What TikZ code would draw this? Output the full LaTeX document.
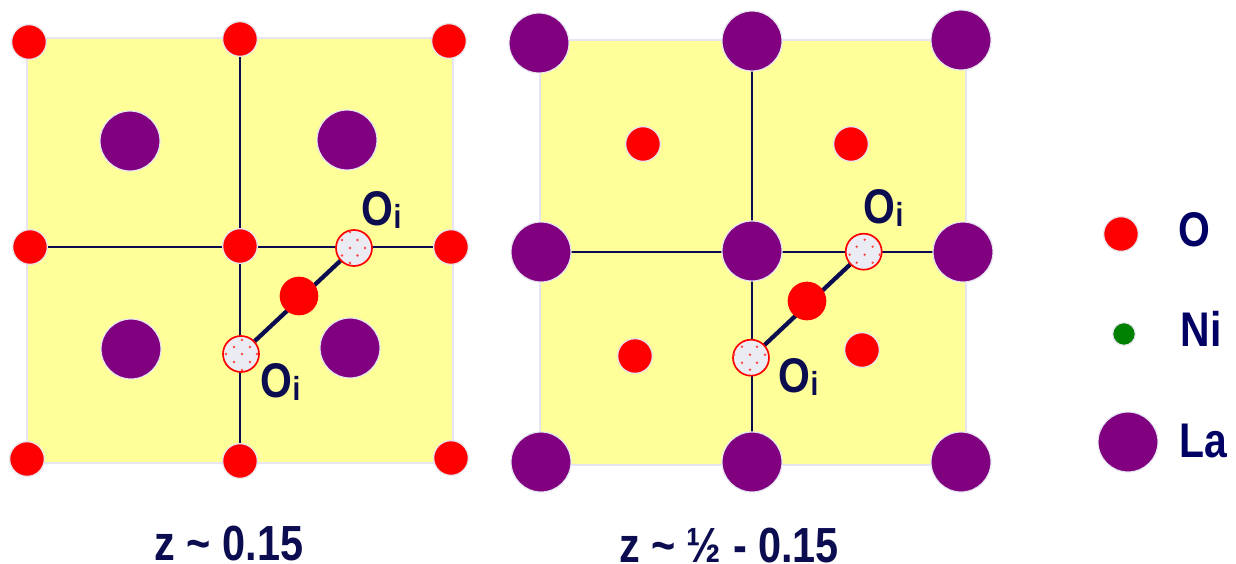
\documentclass[tikz,border=0pt]{standalone}
\usepackage{fontspec}
\setmainfont{Liberation Sans}
\usetikzlibrary{backgrounds}
\definecolor{inkblue}{HTML}{0C0C50}
\definecolor{legendblue}{HTML}{000064}
\definecolor{paneyellow}{HTML}{FFFF99}
\definecolor{halo}{HTML}{E6E6F0}
\definecolor{laviolet}{HTML}{800080}
\definecolor{nigreen}{HTML}{008000}
\newcommand{\oisub}{O\raisebox{-2.6pt}{\fontsize{25}{25}\selectfont i}}
\tikzset{
  x=0.75pt,y=-0.75pt,
  atom/.style={circle,inner sep=0pt,draw=halo,line width=0.9pt},
  oxy/.style={atom,fill=red,minimum size=26pt},
  oxybig/.style={circle,inner sep=0pt,fill=red,minimum size=29pt},
  lanth/.style={atom,fill=laviolet,minimum size=45pt},
  nick/.style={atom,fill=nigreen,minimum size=17pt},
  inter/.style={circle,inner sep=0pt,draw=red,line width=1.25pt,fill=halo!80!white,minimum size=27pt},
  reddot/.style={circle,inner sep=0pt,fill=red!72!white,minimum size=2pt},
  pane/.style={draw=halo,line width=1pt,fill=paneyellow},
  thin link/.style={draw=inkblue,line width=2pt},
  thick link/.style={draw=inkblue,line width=3.2pt},
  lab/.style={inner sep=0pt,text=inkblue,font=\fontsize{36.5}{36.5}\selectfont\bfseries,xscale=0.84,anchor=center},
  oilab/.style={lab,anchor=base west},
  caplab/.style={lab,font=\fontsize{37}{37}\selectfont\bfseries,anchor=base},
  leg/.style={lab,text=legendblue},
}
\newcommand{\dotset}[2]{\foreach \dx/\dy in {#2}{\node[reddot] at ([shift={(\dx,\dy)}]#1.center) {};}}
\begin{document}
\begin{tikzpicture}
\useasboundingbox (0,0) rectangle (1236,564);
% left panel atoms
\node[oxy] (l11) at (29,42) {};
\node[oxy] (l12) at (240,39) {};
\node[oxy] (l13) at (449,41) {};
\node[oxy] (l21) at (30,247) {};
\node[oxy] (l22) at (240,246) {};
\node[oxy] (l23) at (451,247) {};
\node[oxy] (l31) at (27,459) {};
\node[oxy] (l32) at (240,461) {};
\node[oxy] (l33) at (451,458) {};
\node[lanth] (la1) at (130,141) {};
\node[lanth] (la2) at (347,140) {};
\node[lanth] (la3) at (131,349) {};
\node[lanth] (la4) at (350,348) {};
\node[inter] (loi1) at (354,248) {};
\node[inter] (loi2) at (241,354) {};
\node[oxybig] (lmid) at (299,296) {};
\dotset{loi1}{-12/-8,3.5/-8,-4/0,11/0,-12/7.5,3.5/7.5,-4/15,-4/-16}
\dotset{loi2}{1/-14,-7/-7,9/-7,-15/0,1/0,16/0,-7/8,9/8,1/16}
% right panel atoms
\node[lanth] (r11) at (539,43) {};
\node[lanth] (r12) at (752,41) {};
\node[lanth] (r13) at (961,40) {};
\node[lanth] (r21) at (541,252) {};
\node[lanth] (r22) at (752,251) {};
\node[lanth] (r23) at (963,252) {};
\node[lanth] (r31) at (541,462) {};
\node[lanth] (r32) at (752,462) {};
\node[lanth] (r33) at (961,462) {};
\node[oxy] (ro1) at (643,144) {};
\node[oxy] (ro2) at (851,144) {};
\node[oxy] (ro3) at (635,356) {};
\node[oxy] (ro4) at (862,350) {};
\node[inter] (roi1) at (863.7,251.7) {};
\node[inter] (roi2) at (751,357.7) {};
\node[oxybig] (rmid) at (807,301) {};
\dotset{roi1}{1/-12,-7/-5,9/-5,-14/3,1/3,16/3,-7/11,9/11}
\dotset{roi2}{6/-11,-9/-11,-1/-3,14/-3,-17/-3,-9/5,6/5,-1/12}
% panels and connectors behind the atoms
\begin{scope}[on background layer]
\path[pane] (27,38) rectangle (453,463);
\path[pane] (540,40) rectangle (966,465);
\draw[thin link] (l12.center) -- (l32.center);
\draw[thin link] (l21.center) -- (l23.center);
\draw[thick link] (loi1.center) -- (loi2.center);
\draw[thin link] (r12.center) -- (r32.center);
\draw[thin link] (r21.center) -- (r23.center);
\draw[thick link] (roi1.center) -- (roi2.center);
\end{scope}
% labels
\node[oilab] (t1) at (361.5,225) {\oisub};
\node[oilab] (t2) at (260.5,397) {\oisub};
\node[oilab] (t3) at (863.5,223) {\oisub};
\node[oilab] (t4) at (778.5,392) {\oisub};
\node[caplab] (cap1) at (229,560) {z \textasciitilde{} 0.15};
\node[caplab] (cap2) at (729,562) {z \textasciitilde{} ½ - 0.15};
% legend
\node[oxy] (ko) at (1121,234) {};
\node[nick] (kn) at (1124,334) {};
\node[lanth] (kl) at (1128,442) {};
\node[leg] (lo) at (1194,230) {O};
\node[leg] (ln) at (1201,329) {Ni};
\node[leg] (ll) at (1203,441) {La};
\end{tikzpicture}
\end{document}
